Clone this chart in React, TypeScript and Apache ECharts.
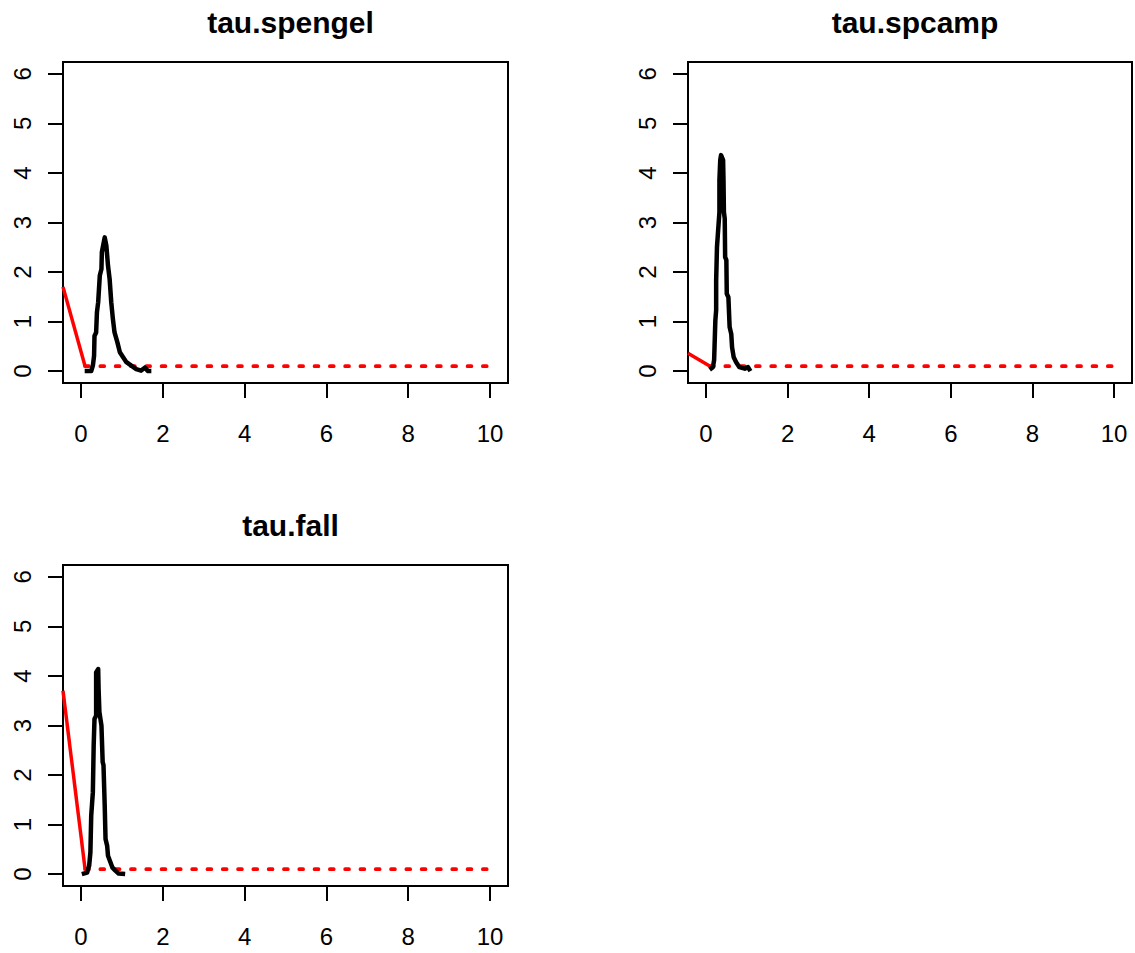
import React, { useEffect, useRef } from "react";
import * as echarts from "echarts";

const titles = ["tau.spengel", "tau.spcamp", "tau.fall"];
const xTicks = [0, 2, 4, 6, 8, 10];
const yTicks = [0, 1, 2, 3, 4, 5, 6];

// posterior density (black)
const densSpengel: number[][] = [
  [0.09, 0], [0.25, 0], [0.29, 0.11], [0.32, 0.31], [0.33, 0.71], [0.37, 0.78],
  [0.39, 1.19], [0.42, 1.39], [0.46, 1.93], [0.5, 2.06], [0.51, 2.4], [0.55, 2.57],
  [0.58, 2.7], [0.62, 2.53], [0.66, 2.13], [0.7, 1.86], [0.74, 1.39], [0.78, 1.05],
  [0.82, 0.78], [0.89, 0.58], [0.95, 0.38], [1.03, 0.28], [1.11, 0.18], [1.23, 0.11],
  [1.35, 0.04], [1.47, 0.01], [1.56, 0.07], [1.64, 0], [1.72, 0],
];
const densSpcamp: number[][] = [
  [0.09, 0.03], [0.17, 0.08], [0.2, 0.22], [0.21, 0.48], [0.23, 1.02], [0.25, 1.23],
  [0.25, 1.83], [0.27, 2.5], [0.29, 2.74], [0.33, 3.21], [0.33, 3.85], [0.35, 4.26],
  [0.37, 4.36], [0.42, 4.26], [0.43, 3.85], [0.44, 3.21], [0.46, 3.08], [0.47, 2.3],
  [0.5, 2.24], [0.51, 1.56], [0.55, 1.49], [0.58, 0.89], [0.62, 0.75], [0.64, 0.48],
  [0.68, 0.28], [0.74, 0.18], [0.82, 0.08], [0.95, 0.05], [1.03, 0.08], [1.09, 0],
];
const densFall: number[][] = [
  [0.02, 0], [0.15, 0.03], [0.2, 0.17], [0.23, 0.44], [0.25, 1.18], [0.29, 1.65],
  [0.31, 2.59], [0.33, 3.13], [0.37, 3.2], [0.37, 4.07], [0.42, 4.14], [0.43, 3.74],
  [0.45, 3.27], [0.5, 3.0], [0.53, 2.26], [0.55, 2.2], [0.58, 1.38], [0.6, 0.71],
  [0.64, 0.57], [0.66, 0.37], [0.72, 0.24], [0.77, 0.13], [0.84, 0.07], [0.92, 0.01],
  [1.08, 0],
];

// prior (red): solid part and dotted uniform part
const priorSolidSpengel: number[][] = [[-0.44, 1.7], [0.1, 0.1]];
const priorSolidSpcamp: number[][] = [[-0.44, 0.36], [0.1, 0.1]];
const priorSolidFall: number[][] = [[-0.44, 3.7], [0.1, 0.1]];
const priorDotted: number[][] = [[0.1, 0.1], [10, 0.1]];

const densities = [densSpengel, densSpcamp, densFall];
const priorSolids = [priorSolidSpengel, priorSolidSpcamp, priorSolidFall];

const FONT = "'Liberation Sans', Arial, Helvetica, sans-serif";

export default function App() {
  const ref = useRef<HTMLDivElement>(null);
  useEffect(() => {
    if (!ref.current) return;
    const chart = echarts.init(ref.current, null, { renderer: "svg" });
    const grids = [
      { left: 63, top: 62, width: 445, height: 321 },
      { left: 688, top: 62, width: 444, height: 321 },
      { left: 63, top: 565, width: 445, height: 321 },
    ];
    const option: any = {
      animation: false,
      backgroundColor: "#ffffff",
      title: titles.map((t, i) => ({
        text: t,
        left: grids[i].left + grids[i].width / 2,
        top: grids[i].top - 60,
        textAlign: "center",
        textStyle: { fontFamily: FONT, fontSize: 30, fontWeight: "bold", color: "#000" },
      })),
      grid: grids.map((g) => ({
        ...g,
        show: true,
        borderColor: "#000",
        borderWidth: 2,
        backgroundColor: "transparent",
        containLabel: false,
      })),
      xAxis: grids.map((_, i) => ({
        type: "value",
        gridIndex: i,
        position: "bottom",
        min: -0.44,
        max: 10.44,
        axisLine: { show: false, onZero: false },
        splitLine: { show: false },
        axisTick: {
          show: true,
          inside: false,
          length: 15,
          customValues: xTicks,
          lineStyle: { color: "#000", width: 2 },
        },
        axisLabel: {
          customValues: xTicks,
          fontFamily: FONT,
          fontSize: 24,
          color: "#000",
          margin: 38,
        },
      })),
      yAxis: grids.map((_, i) => ({
        type: "value",
        gridIndex: i,
        position: "left",
        min: -0.24,
        max: 6.24,
        axisLine: { show: false, onZero: false },
        splitLine: { show: false },
        axisTick: {
          show: true,
          inside: false,
          length: 15,
          customValues: yTicks,
          lineStyle: { color: "#000", width: 2 },
        },
        axisLabel: {
          customValues: yTicks,
          fontFamily: FONT,
          fontSize: 24,
          color: "#000",
          rotate: 90,
          margin: 29,
        },
      })),
      series: [] as any[],
    };
    for (let i = 0; i < 3; i++) {
      option.series.push({
        type: "line",
        xAxisIndex: i,
        yAxisIndex: i,
        data: priorSolids[i],
        symbol: "none",
        silent: true,
        clip: true,
        lineStyle: { color: "#ff0000", width: 3.5 },
      });
      option.series.push({
        type: "line",
        xAxisIndex: i,
        yAxisIndex: i,
        data: priorDotted,
        symbol: "none",
        silent: true,
        lineStyle: { color: "#ff0000", width: 3.8, type: [3.8, 11.5], cap: "round" },
      });
      option.series.push({
        type: "line",
        xAxisIndex: i,
        yAxisIndex: i,
        data: densities[i],
        symbol: "none",
        silent: true,
        lineStyle: { color: "#000", width: 4.5, join: "round" },
      });
    }
    chart.setOption(option);
    return () => chart.dispose();
  }, []);
  return (
    <div
      ref={ref}
      style={{ position: "absolute", left: 0, top: 0, width: 1135, height: 953 }}
    />
  );
}
